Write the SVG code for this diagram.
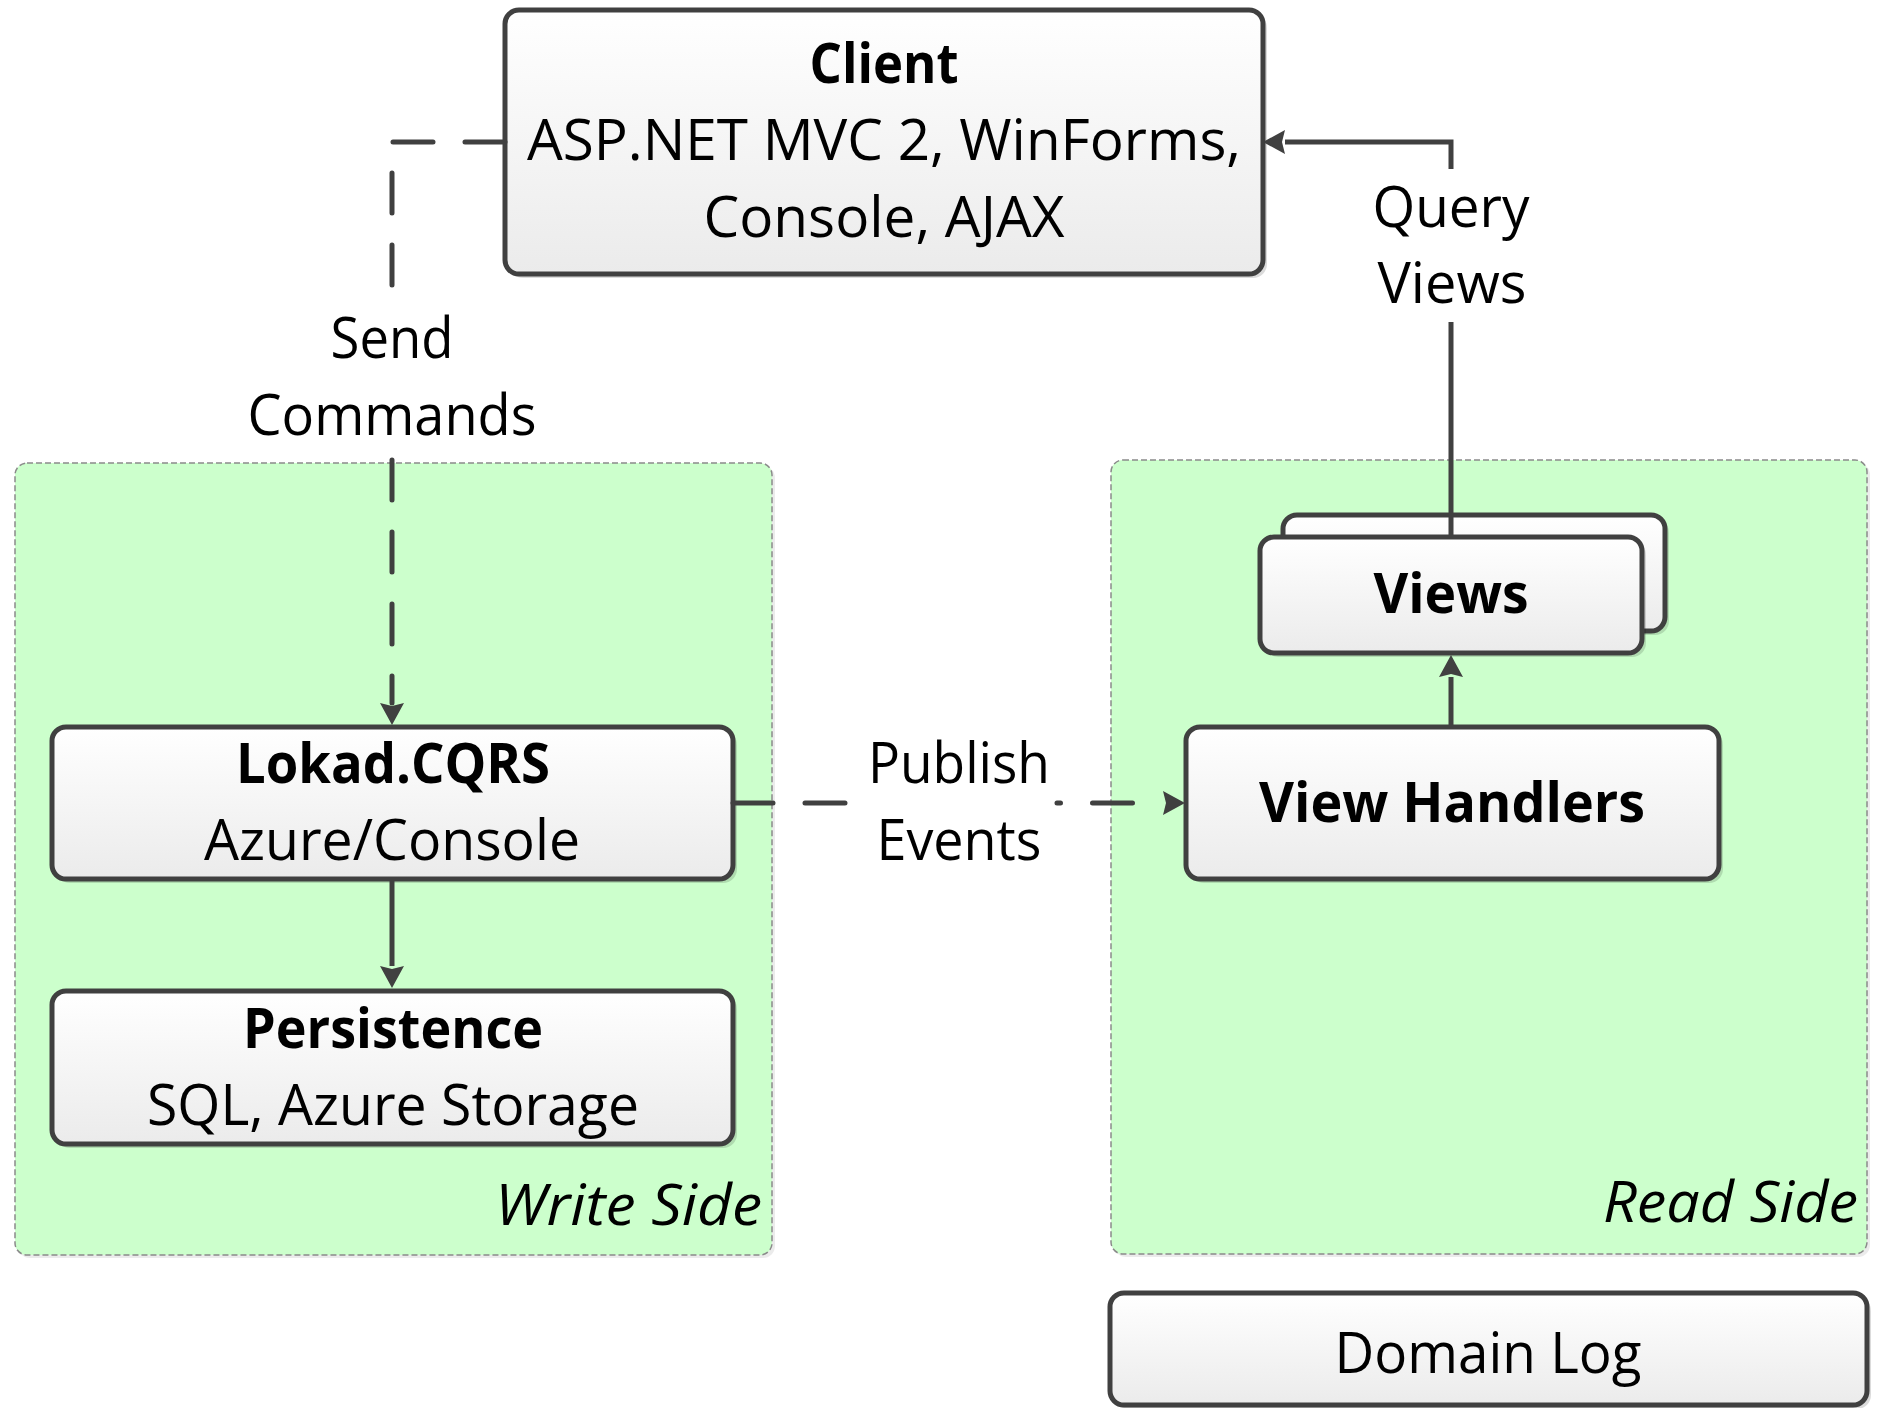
<svg xmlns="http://www.w3.org/2000/svg" width="1877" height="1408" viewBox="0 0 1877 1408">
<style>
.box{fill:url(#g);stroke:#404040;stroke-width:5}
.sh{fill:#000;fill-opacity:0.14}
.cont{fill:#ccffcc;stroke:#8a8a8a;stroke-width:1.5;stroke-dasharray:6 3}
.csh{fill:#000;fill-opacity:0.08}
.t{font-family:"Open Sans","Noto Sans",sans-serif;font-size:56px;fill:#000;text-anchor:middle}
.b{font-weight:bold}
.i{font-style:italic;text-anchor:end}
.ln{fill:none;stroke:#404040;stroke-width:5}
.d{stroke-dasharray:40 32;stroke-linecap:round}
</style>
<defs>
<linearGradient id="g" x1="0" y1="0" x2="0" y2="1">
<stop offset="0" stop-color="#ffffff"/>
<stop offset="1" stop-color="#ebebeb"/>
</linearGradient>
<marker id="ar" markerUnits="userSpaceOnUse" viewBox="0 0 22 24" refX="0" refY="12" markerWidth="22" markerHeight="24" orient="auto">
<path d="M0,0 L22,12 L0,24 L3,12 z" fill="#404040"/>
</marker>
</defs>

<g id="write-side">
<rect class="csh" x="18" y="466" width="757" height="792" rx="12"/>
<rect class="cont" x="15" y="463" width="757" height="792" rx="12"/>
<text class="t i" x="762" y="1225" textLength="267" lengthAdjust="spacingAndGlyphs">Write Side</text>
</g>
<g id="read-side">
<rect class="csh" x="1114" y="463" width="756" height="794" rx="12"/>
<rect class="cont" x="1111" y="460" width="756" height="794" rx="12"/>
<text class="t i" x="1858" y="1222" textLength="255" lengthAdjust="spacingAndGlyphs">Read Side</text>
</g>

<g id="client">
<rect class="sh" x="509" y="14" width="758" height="264" rx="14"/>
<rect class="box" x="505" y="10" width="758" height="264" rx="14"/>
<text class="t b" x="884" y="83" textLength="149" lengthAdjust="spacingAndGlyphs">Client</text>
<text class="t" x="884" y="160" textLength="714" lengthAdjust="spacingAndGlyphs">ASP.NET MVC 2, WinForms,</text>
<text class="t" x="884" y="237" textLength="361" lengthAdjust="spacingAndGlyphs">Console, AJAX</text>
</g>

<g id="lokad">
<rect class="sh" x="56" y="731" width="681" height="152" rx="14"/>
<rect class="box" x="52" y="727" width="681" height="152" rx="14"/>
<text class="t b" x="393" y="783" textLength="314" lengthAdjust="spacingAndGlyphs">Lokad.CQRS</text>
<text class="t" x="392" y="860" textLength="376" lengthAdjust="spacingAndGlyphs">Azure/Console</text>
</g>

<g id="persistence">
<rect class="sh" x="56" y="995" width="681" height="153" rx="14"/>
<rect class="box" x="52" y="991" width="681" height="153" rx="14"/>
<text class="t b" x="393" y="1048" textLength="300" lengthAdjust="spacingAndGlyphs">Persistence</text>
<text class="t" x="393" y="1125" textLength="492" lengthAdjust="spacingAndGlyphs">SQL, Azure Storage</text>
</g>

<g id="views">
<rect class="sh" x="1287" y="519" width="382" height="116" rx="14"/>
<rect class="box" x="1283" y="515" width="382" height="116" rx="14"/>
<rect class="sh" x="1264" y="541" width="382" height="116" rx="14"/>
<rect class="box" x="1260" y="537" width="382" height="116" rx="14"/>
<text class="t b" x="1451" y="613" textLength="155" lengthAdjust="spacingAndGlyphs">Views</text>
</g>

<g id="view-handlers">
<rect class="sh" x="1190" y="731" width="533" height="152" rx="14"/>
<rect class="box" x="1186" y="727" width="533" height="152" rx="14"/>
<text class="t b" x="1452" y="822" textLength="386" lengthAdjust="spacingAndGlyphs">View Handlers</text>
</g>

<g id="domain-log">
<rect class="sh" x="1114" y="1297" width="757" height="112" rx="14"/>
<rect class="box" x="1110" y="1293" width="757" height="112" rx="14"/>
<text class="t" x="1488" y="1373" textLength="307" lengthAdjust="spacingAndGlyphs">Domain Log</text>
</g>

<g id="connectors">
<path class="ln d" d="M505,142 H392 V290"/>
<path class="ln d" d="M392,460 V703" marker-end="url(#ar)"/>
<text class="t" x="392" y="358" textLength="123" lengthAdjust="spacingAndGlyphs">Send</text>
<text class="t" x="392" y="435" textLength="289" lengthAdjust="spacingAndGlyphs">Commands</text>

<path class="ln" d="M392,879 V966" marker-end="url(#ar)"/>

<path class="ln d" d="M733,803 H850"/>
<path class="ln d" d="M1057,803 H1163" style="stroke-dashoffset:36.5" marker-end="url(#ar)"/>
<text class="t" x="959" y="783" textLength="182" lengthAdjust="spacingAndGlyphs">Publish</text>
<text class="t" x="959" y="860" textLength="165" lengthAdjust="spacingAndGlyphs">Events</text>

<path class="ln" d="M1451,727 V677" marker-end="url(#ar)"/>

<path class="ln" d="M1451,537 V322"/>
<path class="ln" d="M1451,169 V142 H1285" marker-end="url(#ar)"/>
<text class="t" x="1451" y="227" textLength="157" lengthAdjust="spacingAndGlyphs">Query</text>
<text class="t" x="1452" y="303" textLength="149" lengthAdjust="spacingAndGlyphs">Views</text>
</g>
</svg>
